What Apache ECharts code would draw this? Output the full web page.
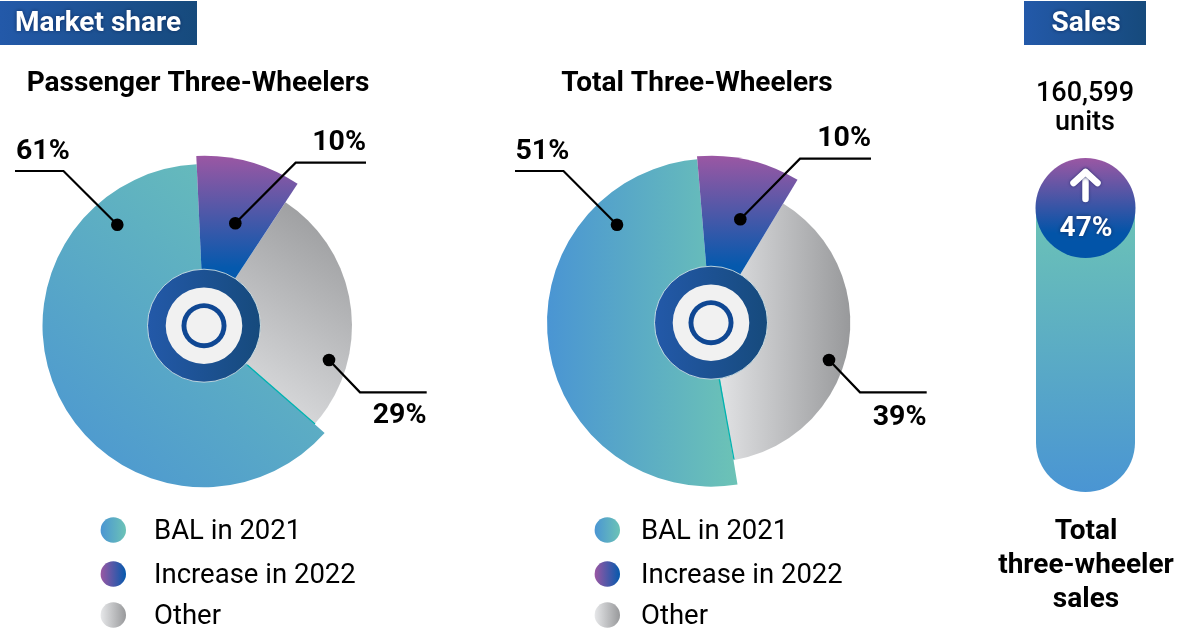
<!DOCTYPE html>
<html><head><meta charset="utf-8">
<style>html,body{margin:0;padding:0;background:#fff}#c{width:1200px;height:635px}</style>
<script src="https://cdn.jsdelivr.net/npm/echarts@6/dist/echarts.min.js"></script>
</head><body><div id="c"></div>
<script>
// Printed labels
const passengerLabels = [61, 10, 29];
const totalLabels = [51, 10, 39];
const legendNames = ['BAL in 2021', 'Increase in 2022', 'Other'];
// Slice widths as drawn in the picture (% of the circle), order: BAL, Increase, Other
const passengerSlices = [62.7, 10, 27.3];
const totalSlices = [51.25, 10, 38.75];
const salesUnits = [160599];
const salesGrowth = [47];

const F = 'Roboto, "Noto Sans", sans-serif';
const lin = (x, y, x2, y2, a, b, end) => ({type:'linear', x, y, x2, y2, colorStops:[{offset:0,color:a},{offset:end||1,color:b},{offset:1,color:b}]});
const TEAL_D = lin(0,1,1,0,'#4a94d3','#6cc3b6');
const TEAL_H = lin(0,0,1,0,'#4a95d3','#6cc3b6');
const PURPLE = lin(0,0,0,1,'#9b57a3','#0559ad',0.66);
const PURPLE_CAP = lin(0,0,0,1,'#9b57a3','#0254a8',0.75);
const GRAY_D = lin(0,1,1,0,'#e8e9eb','#949597');
const GRAY_H = lin(0,0,1,0,'#e6e7e9','#98999b');
const RING = lin(0,0,1,0,'#2359a9','#164a7c');
const HEAD = lin(0,0,1,0,'#2359a9','#164a7c');

function slice(center, r, startClock, value, fill, name, z){
  return {type:'pie', name, center, radius:[0,r], startAngle:90-startClock, clockwise:true, silent:true,
    animation:false, z, label:{show:false}, labelLine:{show:false}, emphasis:{disabled:true},
    data:[{value, name, itemStyle:{color:fill}}, {value:100-value, name:'', itemStyle:{color:'transparent'}}]};
}
function disc(center, r, fill, z, border){
  return {type:'pie', center, radius:[0,r], silent:true, animation:false, z, label:{show:false},
    labelLine:{show:false}, emphasis:{disabled:true},
    data:[{value:1, itemStyle:{color:fill, borderColor:border||'transparent', borderWidth:border?1:0}}]};
}
function donut(s, center, start, radii, fills){
  // clockwise: Increase, Other, BAL
  const inc = start, oth = inc + s[1]*3.6, bal = oth + s[2]*3.6;
  return [
    slice(center, radii[2], oth, s[2], fills[2], legendNames[2], 2),
    slice(center, radii[0], bal, s[0], fills[0], legendNames[0], 3),
    slice(center, radii[1], inc, s[1], fills[1], legendNames[1], 4),
    disc(center, 56.5, RING, 5, 'rgba(225,240,238,.8)'),
    disc(center, 38.3, '#f1f1f1', 6),
    disc(center, 22.5, '#0f4793', 7),
    disc(center, 17.6, '#f1f1f1', 8)
  ];
}
const c1=[204,325.7], c2=[711,322.7];
const series = [
  ...donut(passengerSlices, c1, -2.6, [161.5,170,148], [TEAL_D,PURPLE,GRAY_D]),
  ...donut(totalSlices, c2, -4.8, [164,167,139.3], [TEAL_H,PURPLE,GRAY_H]),
  {type:'bar', data:salesUnits, barWidth:99, silent:true, animation:false, z:2,
   itemStyle:{color:lin(0,0,0,1,'#6cc3b6','#4a95d3'), borderRadius:[0,0,50,50]}},
  {type:'pie', center:[1085.5,208], radius:[0,50], silent:true, animation:false, z:4,
   label:{show:false}, labelLine:{show:false}, emphasis:{disabled:true},
   data:[{value:salesGrowth[0], itemStyle:{color:PURPLE_CAP}}]}
];
const T=(x,y,text,size,weight,align,fill,extra)=>({type:'text', x, y:y+1.8, z:20, silent:true,
  style:Object.assign({text, x:0, y:0, fill:fill||'#000', font:`${weight} ${size}px ${F}`, align:align||'left', verticalAlign:'middle'},extra||{})});
const glow={textShadowColor:'#0c2f66', textShadowBlur:4};
const line=(pts)=>({type:'polyline', z:18, silent:true, shape:{points:pts}, style:{stroke:'#000', lineWidth:2.2, fill:null}});
const edge=(a,b)=>({type:'line', z:17, silent:true, shape:{x1:a[0],y1:a[1],x2:b[0],y2:b[1]}, style:{stroke:'#00b3b0', lineWidth:1.3}});
const dot=(x,y)=>({type:'circle', z:19, silent:true, shape:{cx:x,cy:y,r:6.3}, style:{fill:'#000'}});
const rect=(x,y,w,h,fill)=>({type:'rect', z:15, silent:true, shape:{x,y,width:w,height:h}, style:{fill}});
const legendDot=(x,y,fill)=>({type:'circle', z:15, silent:true, shape:{cx:x,cy:y,r:12.7}, style:{fill}});
const legendFills=[lin(0,0,1,0,'#4a95d3','#6cc3b6'), lin(0,0,1,0,'#9b57a3','#0559ad'), lin(0,0,1,0,'#e6e7e9','#98999b')];
const legendY=[530,574,615];
const pct=v=>v+'%';
const elements=[
  rect(0,1,197,44,HEAD), rect(1024,1,122,44,HEAD),
  T(98,22.5,'Market share',28,700,'center','#fff',glow),
  T(1086,22.5,'Sales',28,700,'center','#fff',glow),
  T(198,82,'Passenger Three-Wheelers',28,700,'center'),
  T(697,82,'Total Three-Wheelers',28,700,'center'),
  T(1085,92,'160,599',27,500,'center'),
  T(1085,121,'units',27,500,'center'),
  T(1086,530,'Total',28,700,'center'),
  T(1086,564,'three-wheeler',28,700,'center'),
  T(1086,598,'sales',28,700,'center'),
  T(1086,227,pct(salesGrowth[0]),28,700,'center','#fff',glow),
  {type:'polyline', z:18, silent:true, shape:{points:[[1085.5,199],[1085.5,172]]}, style:{stroke:'#fff', lineWidth:6.5, lineCap:'round', fill:null, shadowColor:'#2a2f70', shadowBlur:3}},
  {type:'polyline', z:18, silent:true, shape:{points:[[1073.5,183],[1085.5,172],[1097.5,183]]}, style:{stroke:'#fff', lineWidth:6.5, lineCap:'round', lineJoin:'round', fill:null, shadowColor:'#2a2f70', shadowBlur:3}},
  edge([247.3,365],[315,424]), edge([719.3,379.3],[734,459.5]),
  // passenger call-outs
  line([[15,171],[63.5,171],[117.3,224.7]]), dot(117.3,224.7), T(16,150,pct(passengerLabels[0]),28.5,700),
  line([[235.3,223.3],[295.7,162.7],[366,162.7]]), dot(235.3,223.3), T(366,141,pct(passengerLabels[1]),28.5,700,'right'),
  line([[329,360],[360,392.3],[426.7,392.3]]), dot(329,360), T(426.5,414,pct(passengerLabels[2]),28.5,700,'right'),
  // total call-outs
  line([[515,171],[563.5,171],[617,224.7]]), dot(617,224.7), T(515.5,150,pct(totalLabels[0]),28.5,700),
  line([[740.3,219.3],[800,158.7],[871,158.7]]), dot(740.3,219.3), T(871,137,pct(totalLabels[1]),28.5,700,'right'),
  line([[829,360],[860,392.3],[926.7,392.3]]), dot(829,360), T(926.5,416,pct(totalLabels[2]),28.5,700,'right')
];
legendNames.forEach((n,i)=>{
  elements.push(legendDot(113.3,legendY[i],legendFills[i]), T(154,legendY[i],n,27.5,400));
  elements.push(legendDot(607.3,legendY[i],legendFills[i]), T(641,legendY[i],n,27.5,400));
});
const chart=echarts.init(document.getElementById('c'),null,{renderer:'canvas',width:1200,height:635});
chart.setOption({
  backgroundColor:'#fff', animation:false,
  grid:{left:1036,width:99,top:208,height:284,containLabel:false},
  xAxis:{type:'category',data:['Total three-wheeler sales'],show:false},
  yAxis:{type:'value',min:0,max:salesUnits[0],show:false},
  series, graphic:{elements}
});
</script></body></html>
